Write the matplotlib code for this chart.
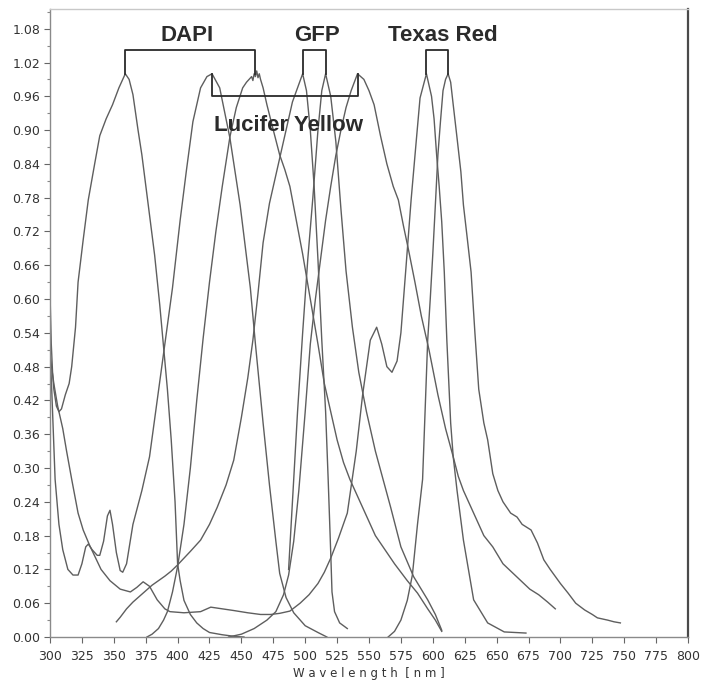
import matplotlib
matplotlib.use("Agg")
import matplotlib.pyplot as plt
from matplotlib.ticker import MultipleLocator, FormatStrFormatter

# ---------------- data ----------------
dapi_ex_wl = [300, 301, 302, 303, 305, 307, 309, 312, 315, 317, 320, 322, 326, 330, 335,
              339, 344, 349, 354, 359, 362, 365, 369, 372, 377, 382, 386, 389, 392, 395,
              398, 400, 402, 405, 410, 415, 420, 425, 435, 445, 452]
dapi_ex = [0.61, 0.52, 0.47, 0.44, 0.41, 0.40, 0.405, 0.43, 0.45, 0.48, 0.55, 0.63, 0.705,
           0.776, 0.84, 0.89, 0.92, 0.945, 0.975, 1.0, 0.99, 0.963, 0.9, 0.856, 0.767, 0.678,
           0.59, 0.515, 0.44, 0.35, 0.24, 0.13, 0.1, 0.065, 0.04, 0.025, 0.015, 0.008, 0.004,
           0.001, 0.0]

dapi_em_wl = [376, 380, 385, 389, 392, 396, 400, 405, 410, 415, 420, 425, 430, 435, 441,
              446, 451, 454, 456, 458, 459, 460, 461, 462, 463, 464, 465, 467, 470, 475,
              480, 484, 488, 493, 498, 504, 510, 515, 520, 525, 530, 535, 540, 545, 550,
              555, 561, 570, 580, 588, 596, 602, 607]
dapi_em = [0.0, 0.005, 0.015, 0.03, 0.045, 0.08, 0.125, 0.2, 0.3, 0.42, 0.53, 0.63, 0.72,
           0.8, 0.888, 0.94, 0.975, 0.985, 0.99, 0.995, 0.988, 1.0, 0.995, 1.005, 0.993,
           1.0, 0.99, 0.975, 0.945, 0.9, 0.856, 0.83, 0.8, 0.74, 0.68, 0.6, 0.52, 0.45,
           0.4, 0.35, 0.31, 0.28, 0.255, 0.23, 0.205, 0.18, 0.16, 0.13, 0.1, 0.078, 0.05,
           0.03, 0.01]

ly_ex_wl = [300, 302, 304, 307, 310, 314, 318, 322, 325, 328, 330, 333, 337, 339, 342, 345,
            347, 349, 352, 355, 357, 360, 365, 372, 378, 384, 390, 396, 402, 407, 412, 418,
            423, 427, 433, 441, 449, 457, 461, 467, 472, 477, 480, 485, 491, 500, 510, 517]
ly_ex = [0.52, 0.4, 0.28, 0.2, 0.155, 0.12, 0.11, 0.11, 0.13, 0.16, 0.165, 0.155, 0.145,
         0.145, 0.17, 0.215, 0.225, 0.2, 0.15, 0.118, 0.115, 0.13, 0.2, 0.26, 0.32, 0.42,
         0.52, 0.62, 0.74, 0.83, 0.915, 0.975, 0.995, 1.0, 0.975, 0.886, 0.767, 0.62, 0.52,
         0.38, 0.27, 0.17, 0.113, 0.07, 0.043, 0.02, 0.008, 0.0]

ly_em_wl = [440, 450, 460, 470, 477, 483, 487, 491, 495, 500, 504, 508, 512, 516, 520, 524,
            528, 532, 536, 541, 546, 550, 554, 559, 564, 569, 573, 577, 581, 586, 591, 597,
            604, 610, 616, 620, 624, 628, 634, 640, 647, 655, 662, 669, 676, 683, 690, 696]
ly_em = [0.0, 0.005, 0.015, 0.03, 0.045, 0.075, 0.11, 0.17, 0.26, 0.4, 0.52, 0.6, 0.67,
         0.74, 0.8, 0.855, 0.9, 0.94, 0.97, 1.0, 0.99, 0.97, 0.945, 0.89, 0.84, 0.8, 0.776,
         0.73, 0.687, 0.63, 0.57, 0.51, 0.43, 0.37, 0.32, 0.285, 0.26, 0.24, 0.21, 0.18,
         0.16, 0.13, 0.115, 0.1, 0.085, 0.075, 0.062, 0.05]

gfp_ex_wl = [352, 355, 360, 365, 370, 375, 380, 385, 390, 395, 400, 405, 410, 418, 425,
             431, 438, 444, 450, 455, 459, 463, 467, 472, 478, 484, 490, 494, 498, 501,
             504, 507, 510, 513, 516, 518, 520, 521, 523, 527, 533]
gfp_ex = [0.027, 0.035, 0.05, 0.062, 0.072, 0.082, 0.092, 0.1, 0.108, 0.117, 0.128, 0.14,
          0.152, 0.172, 0.2, 0.23, 0.27, 0.314, 0.39, 0.46, 0.527, 0.61, 0.7, 0.77, 0.83,
          0.89, 0.95, 0.975, 1.0, 0.97, 0.9, 0.8, 0.67, 0.527, 0.4, 0.28, 0.15, 0.08,
          0.045, 0.025, 0.015]

gfp_em_wl = [487, 490, 494, 498, 502, 506, 510, 513, 516, 520, 524, 528, 532, 537, 542, 548,
             555, 561, 567, 575, 585, 596, 602, 607]
gfp_em = [0.12, 0.24, 0.4, 0.54, 0.67, 0.78, 0.9, 0.97, 1.0, 0.96, 0.88, 0.76, 0.65, 0.55,
          0.47, 0.4, 0.33, 0.28, 0.23, 0.16, 0.107, 0.066, 0.04, 0.012]

tr_ex_wl = [300, 303, 306, 310, 313, 317, 322, 326, 331, 340, 347, 355, 363, 368, 373, 378,
            384, 390, 394, 405, 418, 426, 435, 444, 455, 465, 473, 480, 488, 496, 503, 510,
            515, 520, 526, 533, 540, 545, 551, 556, 560, 564, 568, 572, 575, 579, 583, 587,
            590, 595, 599, 601, 603, 605, 607, 609, 611, 614, 616, 619, 624, 632, 643, 656,
            673]
tr_ex = [0.5, 0.45, 0.41, 0.37, 0.33, 0.28, 0.22, 0.19, 0.163, 0.12, 0.1, 0.085, 0.08,
         0.088, 0.098, 0.09, 0.066, 0.05, 0.045, 0.043, 0.045, 0.053, 0.05, 0.047, 0.043,
         0.04, 0.04, 0.042, 0.046, 0.06, 0.075, 0.095, 0.115, 0.14, 0.175, 0.22, 0.33, 0.43,
         0.527, 0.55, 0.52, 0.48, 0.47, 0.49, 0.54, 0.657, 0.776, 0.88, 0.957, 1.0, 0.96,
         0.92, 0.856, 0.8, 0.737, 0.648, 0.527, 0.38, 0.32, 0.26, 0.172, 0.066, 0.025,
         0.009, 0.007]

tr_em_wl = [565, 570, 575, 580, 584, 588, 592, 596, 598, 600, 602, 604, 606, 608, 610, 612,
            614, 616, 619, 622, 624, 627, 630, 633, 636, 640, 643, 647, 651, 655, 661, 666,
            670, 677, 682, 687, 692, 700, 706, 712, 719, 725, 729, 733, 737, 742, 747]
tr_em = [0.0, 0.01, 0.03, 0.065, 0.11, 0.2, 0.28, 0.527, 0.6, 0.68, 0.767, 0.856, 0.915,
         0.97, 0.99, 1.0, 0.985, 0.945, 0.886, 0.826, 0.767, 0.708, 0.648, 0.54, 0.44, 0.38,
         0.35, 0.29, 0.26, 0.24, 0.22, 0.213, 0.2, 0.19, 0.167, 0.137, 0.12, 0.095, 0.078,
         0.06, 0.048, 0.04, 0.034, 0.032, 0.03, 0.027, 0.025]

# dye labels and their (excitation, emission) peak wavelengths
dye_names = ["DAPI", "GFP", "Texas Red", "Lucifer Yellow"]
dye_peaks = [(359, 461), (498, 516), (595, 612), (427, 541)]

x_ticks = list(range(300, 801, 25))

# ---------------- figure ----------------
fig = plt.figure(figsize=(7.01, 6.85), dpi=100)
ax = fig.add_axes([50 / 701, 48 / 685, 638 / 701, 628 / 685])

line_kw = dict(color="#5e5e5e", lw=1.0, solid_joinstyle="round")
for wl, val in [(dapi_ex_wl, dapi_ex), (dapi_em_wl, dapi_em), (ly_ex_wl, ly_ex),
                (ly_em_wl, ly_em), (gfp_ex_wl, gfp_ex), (gfp_em_wl, gfp_em),
                (tr_ex_wl, tr_ex), (tr_em_wl, tr_em)]:
    ax.plot(wl, val, **line_kw)

ax.set_xlim(300, 800)
ax.set_ylim(0, 1.115)

# brackets
bk = dict(color="#2a2a2a", lw=1.3)
top_y = 1.043
for name, (a, b) in zip(dye_names[:3], dye_peaks[:3]):
    ax.plot([a, a, b, b], [1.0, top_y, top_y, 1.0], **bk)
ly_a, ly_b = dye_peaks[3]
ax.plot([ly_a, ly_a, ly_b, ly_b], [1.0, 0.96, 0.96, 1.0], **bk)

txt = dict(fontsize=16, fontweight="bold", color="#2b2b2b", family="Liberation Sans",
           ha="center", va="center")
ax.text(407.5, 1.068, dye_names[0], **txt)
ax.text(509, 1.068, dye_names[1], **txt)
ax.text(608, 1.068, dye_names[2], **txt)
ax.text(487, 0.908, dye_names[3], **txt)

# ticks
ax.set_xticks(x_ticks)
ax.yaxis.set_major_locator(MultipleLocator(0.06))
ax.yaxis.set_minor_locator(MultipleLocator(0.03))
ax.yaxis.set_major_formatter(FormatStrFormatter("%.2f"))
ax.tick_params(axis="both", which="major", direction="out", length=4, width=0.8,
               color="#666666", labelsize=9, labelcolor="#333333", pad=3)
ax.tick_params(axis="x", which="major", pad=5)
ax.tick_params(axis="y", which="minor", direction="out", length=2.5, width=0.8,
               color="#888888")
ax.set_xlabel("W a v e l e n g t h  [ n m ]", fontsize=8.5, color="#333333", labelpad=3)

for s in ["left", "bottom"]:
    ax.spines[s].set_color("#8a8a8a")
    ax.spines[s].set_linewidth(1.0)
ax.spines["top"].set_color("#c8c8c8")
ax.spines["top"].set_linewidth(1.0)
ax.spines["right"].set_color("#4a4a4a")
ax.spines["right"].set_linewidth(1.6)

fig.savefig("out.png", dpi=100, facecolor="white")
